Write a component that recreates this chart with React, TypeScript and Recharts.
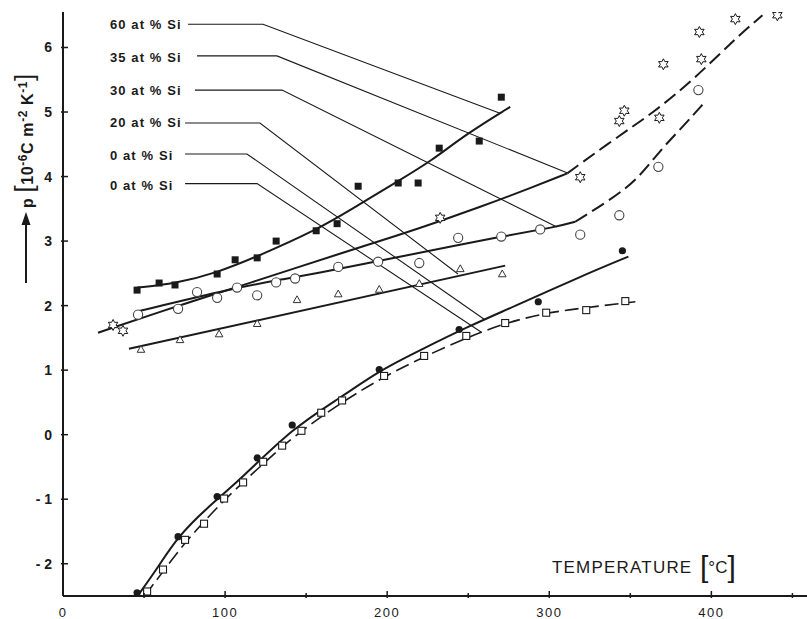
import React from "react";
import { ComposedChart, Line, Scatter, XAxis, YAxis } from "recharts";

// measured points, temperature in °C, p in 1e-6 C m^-2 K^-1
const si60Points = [
  { x: 45.7, y: 2.24 }, { x: 59.3, y: 2.35 }, { x: 69.1, y: 2.32 }, { x: 95.1, y: 2.49 },
  { x: 106.2, y: 2.71 }, { x: 119.8, y: 2.74 }, { x: 131.5, y: 3.0 }, { x: 156.2, y: 3.16 },
  { x: 169.1, y: 3.27 }, { x: 182.1, y: 3.85 }, { x: 206.8, y: 3.9 }, { x: 219.1, y: 3.9 },
  { x: 232.1, y: 4.44 }, { x: 256.8, y: 4.55 }, { x: 270.4, y: 5.23 },
];
const si60Fit = [
  { x: 45.7, y: 2.28 }, { x: 69.1, y: 2.34 }, { x: 95.1, y: 2.51 }, { x: 119.8, y: 2.76 },
  { x: 156.2, y: 3.17 }, { x: 177.2, y: 3.48 }, { x: 208.0, y: 3.95 }, { x: 226.5, y: 4.23 },
  { x: 249.4, y: 4.67 }, { x: 275.9, y: 5.08 },
];

const si35Points = [
  { x: 30.9, y: 1.7 }, { x: 37.0, y: 1.61 }, { x: 232.7, y: 3.36 }, { x: 319.1, y: 3.99 },
  { x: 343.2, y: 4.86 }, { x: 346.3, y: 5.02 }, { x: 367.9, y: 4.91 }, { x: 370.4, y: 5.74 },
  { x: 392.6, y: 6.24 }, { x: 393.8, y: 5.82 }, { x: 414.8, y: 6.44 }, { x: 440.7, y: 6.5 },
];
const si35Fit = [
  { x: 21.6, y: 1.58 }, { x: 78.4, y: 2.06 }, { x: 110.5, y: 2.31 }, { x: 177.2, y: 2.86 },
  { x: 208.0, y: 3.1 }, { x: 232.7, y: 3.31 }, { x: 257.4, y: 3.53 }, { x: 282.1, y: 3.76 },
  { x: 311.1, y: 4.05 },
];
const si35Extrapolated = [
  { x: 311.1, y: 4.05 }, { x: 339.5, y: 4.57 }, { x: 364.2, y: 4.99 }, { x: 388.9, y: 5.5 },
  { x: 413.6, y: 6.11 }, { x: 431.5, y: 6.5 },
];

const si30Points = [
  { x: 46.3, y: 1.86 }, { x: 71.0, y: 1.95 }, { x: 82.7, y: 2.21 }, { x: 95.1, y: 2.12 },
  { x: 107.4, y: 2.28 }, { x: 119.8, y: 2.16 }, { x: 131.5, y: 2.36 }, { x: 143.2, y: 2.42 },
  { x: 169.8, y: 2.6 }, { x: 194.4, y: 2.68 }, { x: 219.8, y: 2.66 }, { x: 243.8, y: 3.05 },
  { x: 270.4, y: 3.07 }, { x: 294.4, y: 3.18 }, { x: 319.1, y: 3.1 }, { x: 343.2, y: 3.4 },
  { x: 367.3, y: 4.15 }, { x: 392.0, y: 5.34 },
];
const si30Fit = [
  { x: 44.4, y: 1.9 }, { x: 107.4, y: 2.28 }, { x: 134.0, y: 2.4 }, { x: 177.2, y: 2.6 },
  { x: 208.0, y: 2.76 }, { x: 269.8, y: 3.07 }, { x: 304.9, y: 3.22 }, { x: 316.0, y: 3.3 },
];
const si30Extrapolated = [
  { x: 316.0, y: 3.3 }, { x: 337.7, y: 3.64 }, { x: 354.3, y: 3.95 }, { x: 368.5, y: 4.41 },
  { x: 382.7, y: 4.78 }, { x: 395.1, y: 5.13 },
];

const si20Points = [
  { x: 48.1, y: 1.32 }, { x: 72.2, y: 1.47 }, { x: 96.3, y: 1.56 }, { x: 119.8, y: 1.72 },
  { x: 144.4, y: 2.09 }, { x: 169.8, y: 2.18 }, { x: 195.1, y: 2.25 }, { x: 219.8, y: 2.34 },
  { x: 245.1, y: 2.57 }, { x: 271.0, y: 2.49 },
];
const si20Fit = [{ x: 40.7, y: 1.33 }, { x: 272.8, y: 2.62 }];

const si0aPoints = [
  { x: 45.7, y: -2.45 }, { x: 71.0, y: -1.58 }, { x: 95.1, y: -0.96 }, { x: 119.8, y: -0.36 },
  { x: 141.4, y: 0.15 }, { x: 195.1, y: 1.01 }, { x: 244.4, y: 1.63 }, { x: 293.2, y: 2.06 },
  { x: 345.1, y: 2.85 },
];
const si0aFit = [
  { x: 46.3, y: -2.49 }, { x: 58.0, y: -2.08 }, { x: 70.4, y: -1.59 }, { x: 88.9, y: -1.13 },
  { x: 109.3, y: -0.7 }, { x: 142.0, y: 0.11 }, { x: 171.0, y: 0.57 }, { x: 195.7, y: 1.0 },
  { x: 220.4, y: 1.31 }, { x: 249.4, y: 1.67 }, { x: 277.8, y: 1.98 }, { x: 319.1, y: 2.45 },
  { x: 348.8, y: 2.76 },
];

const si0bPoints = [
  { x: 51.9, y: -2.43 }, { x: 61.7, y: -2.09 }, { x: 75.3, y: -1.63 }, { x: 87.0, y: -1.38 },
  { x: 99.4, y: -0.99 }, { x: 111.1, y: -0.74 }, { x: 123.5, y: -0.42 }, { x: 135.2, y: -0.17 },
  { x: 147.1, y: 0.06 }, { x: 159.3, y: 0.34 }, { x: 172.2, y: 0.53 }, { x: 198.1, y: 0.91 },
  { x: 222.8, y: 1.22 }, { x: 248.8, y: 1.53 }, { x: 272.8, y: 1.73 }, { x: 298.1, y: 1.89 },
  { x: 322.8, y: 1.93 }, { x: 346.9, y: 2.07 },
];
const si0bFit = [
  { x: 50.6, y: -2.49 }, { x: 61.7, y: -2.12 }, { x: 75.3, y: -1.67 }, { x: 87.0, y: -1.35 },
  { x: 99.4, y: -1.01 }, { x: 123.5, y: -0.45 }, { x: 142.0, y: -0.03 }, { x: 172.2, y: 0.51 },
  { x: 198.1, y: 0.9 }, { x: 222.8, y: 1.21 }, { x: 248.8, y: 1.5 }, { x: 272.8, y: 1.73 },
  { x: 298.1, y: 1.89 }, { x: 322.8, y: 1.97 }, { x: 353.1, y: 2.06 },
];

// leader lines from the labels to the curve ends
const leader60 = [{ x: 77.1, y: 6.36 }, { x: 123.4, y: 6.36 }, { x: 269.6, y: 4.98 }];
const leader35 = [{ x: 82.7, y: 5.87 }, { x: 132.0, y: 5.87 }, { x: 310.9, y: 4.06 }];
const leader30 = [{ x: 81.4, y: 5.34 }, { x: 135.1, y: 5.34 }, { x: 304.7, y: 3.22 }];
const leader20 = [{ x: 75.3, y: 4.83 }, { x: 121.5, y: 4.83 }, { x: 243.7, y: 2.49 }];
const leader0a = [{ x: 75.3, y: 4.35 }, { x: 113.5, y: 4.35 }, { x: 260.3, y: 1.78 }];
const leader0b = [{ x: 75.3, y: 3.89 }, { x: 119.7, y: 3.89 }, { x: 257.9, y: 1.59 }];

const labels = ["60 at % Si", "35 at % Si", "30 at % Si", "20 at % Si", "0 at % Si", "0 at % Si"];
const labelBaselines = [29, 62, 95, 127, 160, 190];

const xTicks = [0, 50, 100, 150, 200, 250, 300, 350, 400, 450];
const yTicks = [-2, -1, 0, 1, 2, 3, 4, 5, 6];

const INK = "#1a1a1a";
const FONT = "'Liberation Sans', Arial, sans-serif";

const XTick = ({ x, y, payload }: any) => {
  const v = payload.value;
  const major = v % 100 === 0;
  return (
    <g>
      {v > 0 && <line x1={x} x2={x} y1={y} y2={y - (major ? 7 : 5)} stroke={INK} strokeWidth={1.5} />}
      {major && (
        <text x={x} y={y + 19} textAnchor="middle" fontSize={13} fill={INK} fontFamily={FONT} letterSpacing={1.5}>
          {v}
        </text>
      )}
    </g>
  );
};

const YTick = ({ x, y, payload }: any) => {
  const v = payload.value;
  return (
    <g>
      <line x1={x} x2={x + 7} y1={y} y2={y} stroke={INK} strokeWidth={1.5} />
      <text x={x - 9} y={y + 5} textAnchor="end" fontSize={14} fontWeight={700} fill={INK} fontFamily={FONT}>
        {v < 0 ? `- ${-v}` : v}
      </text>
    </g>
  );
};

const FilledSquare = ({ cx, cy }: any) => <rect x={cx - 3.5} y={cy - 3.5} width={7} height={7} fill={INK} />;
const OpenSquare = ({ cx, cy }: any) => (
  <rect x={cx - 3.5} y={cy - 3.5} width={7} height={7} fill="#fff" stroke={INK} strokeWidth={1.1} />
);
const FilledCircle = ({ cx, cy }: any) => <circle cx={cx} cy={cy} r={3.6} fill={INK} />;
const OpenCircle = ({ cx, cy }: any) => (
  <circle cx={cx} cy={cy} r={4.6} fill="#fff" stroke="#444" strokeWidth={1.1} />
);
const Triangle = ({ cx, cy }: any) => (
  <polygon
    points={`${cx},${cy - 4} ${cx - 3.8},${cy + 2.8} ${cx + 3.8},${cy + 2.8}`}
    fill="#fff"
    stroke="#333"
    strokeWidth={1}
  />
);
const Star = ({ cx, cy }: any) => {
  const pts: string[] = [];
  for (let i = 0; i < 12; i++) {
    const r = i % 2 === 0 ? 5.5 : 3;
    const a = (Math.PI / 6) * i - Math.PI / 2;
    pts.push(`${cx + r * Math.cos(a)},${cy + r * Math.sin(a)}`);
  }
  return <polygon points={pts.join(" ")} fill="#fff" stroke={INK} strokeWidth={1} />;
};

const curve = (data: any[], key: string, dashed = false, width = 2) => (
  <Line
    key={key}
    data={data}
    dataKey="y"
    type="basis"
    stroke={INK}
    strokeWidth={width}
    strokeDasharray={dashed ? "14 6" : undefined}
    dot={false}
    activeDot={false}
    isAnimationActive={false}
  />
);

const leader = (data: any[], key: string) => (
  <Line
    key={key}
    data={data}
    dataKey="y"
    type="linear"
    stroke={INK}
    strokeWidth={1.1}
    dot={false}
    activeDot={false}
    isAnimationActive={false}
  />
);

export default function App() {
  return (
    <div style={{ position: "absolute", left: 0, top: 0, width: 807, height: 619, background: "#fff" }}>
      <ComposedChart width={807} height={619} margin={{ top: 12, right: 0, bottom: 0, left: 0 }}>
        <XAxis
          type="number"
          dataKey="x"
          domain={[0, 459]}
          ticks={xTicks}
          interval={0}
          allowDataOverflow
          height={23}
          tickSize={0}
          tickLine={false}
          axisLine={{ stroke: INK, strokeWidth: 2 }}
          tick={<XTick />}
        />
        <YAxis
          type="number"
          dataKey="y"
          domain={[-2.5, 6.55]}
          ticks={yTicks}
          interval={0}
          allowDataOverflow
          width={63}
          tickSize={0}
          tickLine={false}
          axisLine={{ stroke: INK, strokeWidth: 2 }}
          tick={<YTick />}
        />
        {leader(leader60, "l60")}
        {leader(leader35, "l35")}
        {leader(leader30, "l30")}
        {leader(leader20, "l20")}
        {leader(leader0a, "l0a")}
        {leader(leader0b, "l0b")}
        {curve(si60Fit, "f60")}
        {curve(si35Fit, "f35")}
        {curve(si35Extrapolated, "e35", true)}
        {curve(si30Fit, "f30")}
        {curve(si30Extrapolated, "e30", true)}
        {curve(si20Fit, "f20")}
        {curve(si0aFit, "f0a")}
        {curve(si0bFit, "f0b", true, 1.6)}
        <Scatter data={si60Points} dataKey="y" shape={<FilledSquare />} isAnimationActive={false} />
        <Scatter data={si35Points} dataKey="y" shape={<Star />} isAnimationActive={false} />
        <Scatter data={si30Points} dataKey="y" shape={<OpenCircle />} isAnimationActive={false} />
        <Scatter data={si20Points} dataKey="y" shape={<Triangle />} isAnimationActive={false} />
        <Scatter data={si0aPoints} dataKey="y" shape={<FilledCircle />} isAnimationActive={false} />
        <Scatter data={si0bPoints} dataKey="y" shape={<OpenSquare />} isAnimationActive={false} />
      </ComposedChart>
      <svg
        width={807}
        height={619}
        style={{ position: "absolute", left: 0, top: 0, pointerEvents: "none" }}
        fontFamily={FONT}
      >
        {labels.map((t, i) => (
          <text key={i} x={110} y={labelBaselines[i]} fontSize={13} fontWeight={700} fill={INK} letterSpacing={1.1}>
            {t}
          </text>
        ))}
        <line x1={26} x2={26} y1={283} y2={222} stroke={INK} strokeWidth={2} />
        <polygon points="26,212 21.5,225 30.5,225" fill={INK} />
        <g transform="translate(33,208) rotate(-90)">
          <text x={0} y={0} fontSize={16} fontWeight={700} fill={INK} letterSpacing={0.6}>
            p{" "}
            <tspan fontSize={26} fontWeight={400}>[</tspan>
            <tspan>10</tspan>
            <tspan dy={-6} fontSize={12}>-6</tspan>
            <tspan dy={6}>C m</tspan>
            <tspan dy={-6} fontSize={12}>-2</tspan>
            <tspan dy={6}> K</tspan>
            <tspan dy={-6} fontSize={12}>-1</tspan>
            <tspan dy={6} fontSize={26} fontWeight={400}>]</tspan>
          </text>
        </g>
        <text x={552} y={573} fontSize={17} fill={INK} letterSpacing={1.2}>
          TEMPERATURE
        </text>
        <text x={700} y={577} fill={INK}>
          <tspan fontSize={30} fontWeight={300}>[</tspan>
          <tspan fontSize={17} dy={-4}>°C</tspan>
          <tspan fontSize={30} fontWeight={300} dy={4}>]</tspan>
        </text>
      </svg>
    </div>
  );
}
